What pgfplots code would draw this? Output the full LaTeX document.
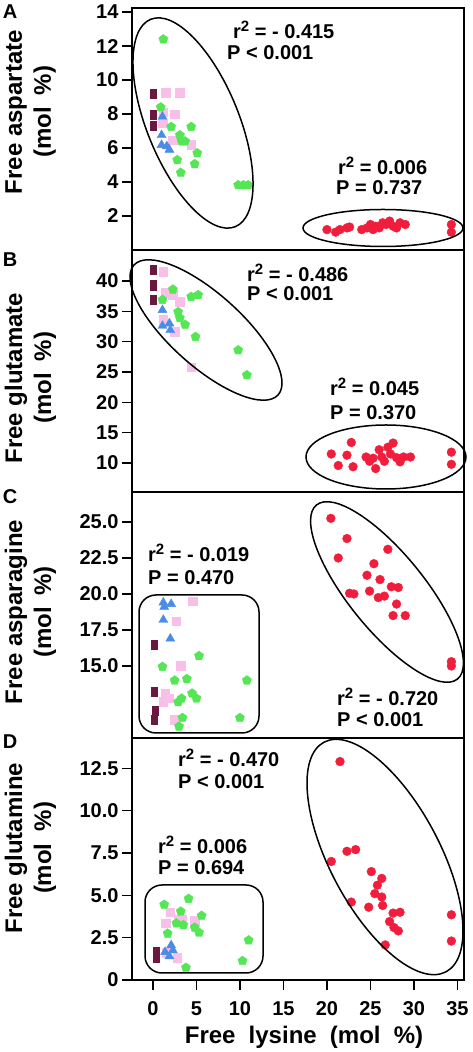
\documentclass[border=0pt]{standalone}
\usepackage{fontspec}
\setmainfont{Liberation Sans}
\usepackage{pgfplots}
\pgfplotsset{compat=1.18}
\definecolor{cred}{HTML}{F01E3C}
\definecolor{cgreen}{HTML}{55E655}
\definecolor{cpink}{HTML}{F8C0E8}
\definecolor{cmaroon}{HTML}{6A1840}
\definecolor{cblue}{HTML}{4A8CE6}
\newcommand{\rsq}{r\raisebox{0.6ex}{\fontsize{15}{15}\selectfont 2}}
\pgfplotsset{
  panel/.style={
    scale only axis, width=332pt, anchor=south west,
    xmin=-2.4, xmax=35.75,
    axis line style={line width=2.5pt},
    tick style={black, line width=1.5pt},
    major tick length=10pt,
    tick align=outside,
    ytick pos=left, xtick pos=bottom,
    /pgf/number format/assume math mode=true,
    tick label style={font=\fontsize{20}{20}\selectfont\bfseries},
    xtick=\empty,
  },
  sred/.style={only marks, color=cred, mark=*, mark size=4.4pt, mark options={draw=cred, fill=cred}},
  sgreen/.style={only marks, color=cgreen, mark=pentagon*, mark size=4.8pt, mark options={draw=cgreen, fill=cgreen}},
  spink/.style={only marks, color=cpink, mark=square*, mark size=4.3pt, mark options={draw=cpink, fill=cpink}},
  smaroon/.style={only marks, color=cmaroon, mark=square*, mark size=4.6pt, mark options={draw=cmaroon, fill=cmaroon, xscale=0.65}},
  sblue/.style={only marks, color=cblue, mark=triangle*, mark size=5.2pt, mark options={draw=cblue, fill=cblue}},
}
\tikzset{ann/.style={anchor=west, inner sep=0pt, font=\fontsize{20}{20}\selectfont\bfseries},
  ylab/.style={rotate=90, align=center, font=\fontsize{24}{29}\selectfont\bfseries},
  encl/.style={line width=1.5pt}}
\begin{document}
\begin{tikzpicture}
\path[use as bounding box] (0,0) rectangle (472pt,1052pt);
% ---------- Panel A ----------
\begin{axis}[panel, at={(132pt,802pt)}, height=242pt, ymin=0, ymax=14.24, ytick={2,4,...,14}]
\addplot[sred] coordinates {(20.0,1.2)(21.0,1.05)(21.5,1.2)(22.3,1.3)(22.6,1.35)(24.0,1.2)(24.6,1.3)(25.0,1.5)(25.3,1.2)(25.6,1.4)(26.0,1.3)(26.4,1.6)(26.8,1.5)(27.2,1.7)(27.6,1.4)(28.0,1.3)(28.4,1.6)(29.0,1.5)(34.3,1.5)(34.3,1.05)};
\addplot[smaroon] coordinates {(0,9.2)(0,7.95)(0,7.3)};
\addplot[spink] coordinates {(1.5,9.25)(3.1,9.25)(1.2,8.1)(2.5,8.0)(1.1,7.45)(2.3,6.47)(4.4,6.2)};
\addplot[sblue] coordinates {(1.1,7.85)(1.0,6.76)(1.0,6.18)(1.6,6.1)(1.9,5.9)};
\addplot[sgreen] coordinates {(1.2,12.4)(0.9,8.4)(2.1,7.25)(4.4,7.25)(3.1,6.76)(3.3,6.4)(3.7,6.4)(5.1,5.7)(2.8,5.3)(4.8,5.06)(3.2,4.55)(9.8,3.82)(10.4,3.82)(10.95,3.82)};
\end{axis}
% ---------- Panel B ----------
\begin{axis}[panel, at={(132pt,560pt)}, height=242pt, ymin=5.24, ymax=45.1, ytick={10,15,...,40}]
\addplot[sred] coordinates {(20.5,11.5)(21.3,9.6)(22.3,11.3)(22.8,13.4)(23.0,9.4)(24.5,11.0)(24.9,10.3)(25.3,10.8)(25.6,9.1)(26.0,12.2)(26.3,11.0)(26.6,10.3)(27.0,12.6)(27.3,11.5)(27.6,13.3)(28.0,10.9)(28.4,10.2)(28.8,11.0)(29.6,11.0)(34.3,11.8)(34.3,9.8)};
\addplot[smaroon] coordinates {(0,41.8)(0,39.3)(0,36.9)};
\addplot[spink] coordinates {(1.2,41.5)(1.4,38.1)(2.3,37.7)(3.1,36.6)(1.2,33.6)(2.5,31.6)(4.4,25.8)};
\addplot[sblue] coordinates {(1.1,35.2)(1.1,32.6)(1.9,33.0)(2.0,31.9)};
\addplot[sgreen] coordinates {(2.3,38.6)(1.1,36.9)(4.4,37.4)(5.2,37.7)(2.9,34.9)(3.1,33.9)(3.7,32.8)(4.9,30.8)(9.8,28.6)(10.8,24.5)};
\end{axis}
% ---------- Panel C ----------
\begin{axis}[panel, at={(132pt,314pt)}, height=246pt, ymin=10, ymax=27.08, ytick={15,17.5,20,22.5,25}, yticklabels={15.0,17.5,20.0,22.5,25.0}]
\addplot[sred] coordinates {(20.45,25.25)(22.3,23.85)(21.3,22.5)(27.0,23.1)(25.4,22.1)(24.6,21.3)(26.1,21.0)(22.6,20.05)(23.1,20.0)(24.9,20.2)(25.9,19.75)(26.6,19.85)(27.4,20.5)(28.2,20.45)(28.0,19.3)(27.6,18.5)(29.0,18.5)(34.3,15.3)(34.3,15.0)};
\addplot[smaroon] coordinates {(0.1,16.5)(0.1,13.2)(0.3,11.9)(0.2,11.25)};
\addplot[spink] coordinates {(4.6,19.5)(2.7,18.1)(3.2,15.0)(1.4,13.1)(1.2,12.5)(1.8,12.75)(2.5,11.25)};
\addplot[sblue] coordinates {(1.2,19.4)(1.3,19.1)(2.1,19.3)(1.2,18.2)(2.0,16.9)};
\addplot[sgreen] coordinates {(5.3,15.7)(1.1,14.95)(2.5,14.0)(3.9,14.1)(10.8,14.0)(4.5,13.1)(5.0,12.75)(3.3,12.75)(2.9,12.5)(3.4,11.4)(3.0,10.8)(10.0,11.4)};
\end{axis}
% ---------- Panel D ----------
\begin{axis}[panel, at={(132pt,72pt)}, height=242pt, ymin=0, ymax=14.29, ytick={0,2.5,5,7.5,10,12.5}, yticklabels={0,2.5,5.0,7.5,10.0,12.5},
  xtick={0,5,...,35}, xticklabels={0,5,10,15,20,25,30,35}, xticklabel style={yshift=-8pt}]
\addplot[sred] coordinates {(21.5,12.9)(20.5,7.0)(22.3,7.6)(23.3,7.7)(25.1,6.4)(26.3,6.0)(25.8,5.6)(25.5,5.1)(26.3,4.9)(22.8,4.6)(24.8,4.3)(26.4,4.4)(27.6,3.95)(28.4,4.0)(27.2,3.45)(27.7,3.1)(28.2,2.9)(26.7,2.07)(34.3,3.85)(34.3,2.3)};
\addplot[smaroon] coordinates {(0.4,1.65)(0.4,1.35)};
\addplot[spink] coordinates {(2.0,4.0)(3.0,3.6)(3.3,3.6)(4.8,3.5)(1.5,3.35)(1.6,1.6)(2.8,1.3)};
\addplot[sblue] coordinates {(2.1,2.05)(1.4,1.65)(2.3,1.75)(1.9,1.4)};
\addplot[sgreen] coordinates {(4.1,4.8)(1.3,4.45)(3.2,4.05)(5.6,3.8)(2.7,3.35)(3.5,3.25)(4.8,3.1)(5.3,2.8)(1.7,2.75)(11.0,2.35)(10.3,1.13)(3.8,0.73)};
\end{axis}
% ---------- ellipses and boxes ----------
\draw[encl, rotate around={-67.8:(193pt,929pt)}] (193pt,929pt) ellipse (112pt and 46pt);
\draw[encl] (383pt,824pt) ellipse (80pt and 18.5pt);
\draw[encl, rotate around={-42:(206pt,722pt)}] (206pt,722pt) ellipse (97pt and 36pt);
\draw[encl] (386pt,595pt) ellipse (80pt and 32pt);
\draw[encl, rounded corners=17pt] (139pt,319pt) rectangle (259pt,457pt);
\draw[encl, rotate around={-51:(387pt,460pt)}] (387pt,460pt) ellipse (112pt and 38pt);
\draw[encl, rounded corners=17pt] (145pt,79pt) rectangle (263pt,167pt);
\draw[encl, rotate around={-62:(385pt,195pt)}] (385pt,195pt) ellipse (130pt and 55pt);
% ---------- annotations ----------
\node[ann] at (233pt,1022pt) {\rsq\ = - 0.415};
\node[ann] at (227pt,999pt) {P < 0.001};
\node[ann] at (338pt,886pt) {\rsq\ = 0.006};
\node[ann] at (336pt,864pt) {P = 0.737};
\node[ann] at (247pt,779pt) {\rsq\ = - 0.486};
\node[ann] at (247pt,758pt) {P < 0.001};
\node[ann] at (330pt,665pt) {\rsq\ = 0.045};
\node[ann] at (330pt,639pt) {P = 0.370};
\node[ann] at (148pt,499pt) {\rsq\ = - 0.019};
\node[ann] at (148pt,474pt) {P = 0.470};
\node[ann] at (337pt,355pt) {\rsq\ = - 0.720};
\node[ann] at (337pt,332pt) {P < 0.001};
\node[ann] at (178pt,294pt) {\rsq\ = - 0.470};
\node[ann] at (178pt,270pt) {P < 0.001};
\node[ann] at (158pt,207pt) {\rsq\ = 0.006};
\node[ann] at (158pt,184pt) {P = 0.694};
% ---------- labels ----------
\node[ylab] at (30.5pt,940pt) {Free aspartate\\(mol\hspace{0.5em}\%)};
\node[ylab] at (30.5pt,674pt) {Free glutamate\\(mol\hspace{0.5em}\%)};
\node[ylab] at (30.5pt,440pt) {Free asparagine\\(mol\hspace{0.5em}\%)};
\node[ylab] at (30.5pt,204pt) {Free glutamine\\(mol\hspace{0.5em}\%)};
\node[font=\fontsize{20}{20}\selectfont\bfseries] at (10pt,1040pt) {A};
\node[font=\fontsize{20}{20}\selectfont\bfseries] at (10pt,792pt) {B};
\node[font=\fontsize{20}{20}\selectfont\bfseries] at (10pt,555pt) {C};
\node[font=\fontsize{20}{20}\selectfont\bfseries] at (10pt,310pt) {D};
\node[font=\fontsize{24}{24}\selectfont\bfseries] at (304pt,15pt) {Free\hspace{0.55em}lysine\hspace{0.55em}(mol\hspace{0.55em}\%)};
\end{tikzpicture}
\end{document}
